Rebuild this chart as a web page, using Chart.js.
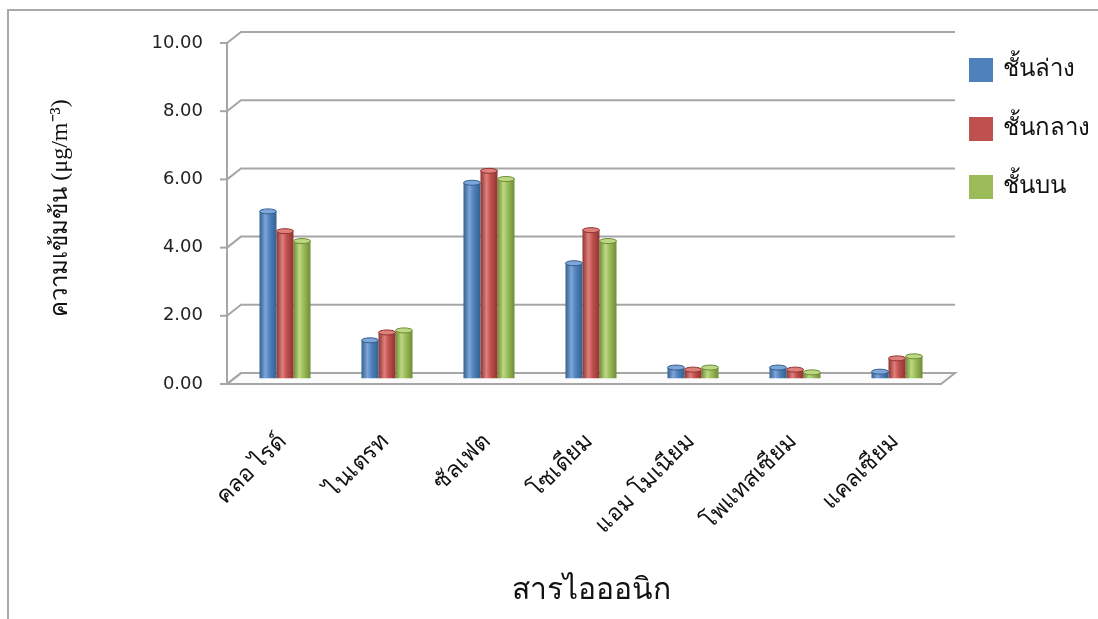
<!DOCTYPE html>
<html>
<head>
<meta charset="utf-8">
<script src="https://cdn.jsdelivr.net/npm/chart.js@4.4.1/dist/chart.umd.min.js"></script>
<style>
  body { margin: 0; background: #fff; }
  #wrap { position: relative; width: 1098px; height: 619px; overflow: hidden; }
  #frame { position: absolute; left: 7px; top: 9px; width: 1100px; height: 620px;
           border-left: 2px solid #a9a9a9; border-top: 2px solid #a9a9a9; }
  #chart { position: absolute; left: 0; top: 0; }
  .leg { position: absolute; left: 969px; height: 24px; font-family: "Liberation Serif", serif;
         font-size: 24px; color: #111; white-space: nowrap; }
  .leg span.box { position: absolute; left: 0; top: 0; width: 24px; height: 24px; }
  .leg span.txt { position: absolute; left: 34px; top: -6px; line-height: 32px; }
</style>
</head>
<body>
<div id="wrap">
  <div id="frame"></div>
  <canvas id="chart" width="1098" height="619"></canvas>
  <div id="legend"></div>
</div>
<script>
  const categories = ["คลอ ไรด์", "ไนเตรท", "ซัลเฟต", "โซเดียม", "แอม โมเนียม", "โพแทสเซียม", "แคลเซียม"];
  const seriesNames = ["ชั้นล่าง", "ชั้นกลาง", "ชั้นบน"];
  const lowerLayer = [4.9, 1.12, 5.74, 3.38, 0.32, 0.32, 0.2];
  const middleLayer = [4.32, 1.35, 6.09, 4.35, 0.26, 0.26, 0.59];
  const upperLayer = [4.03, 1.41, 5.85, 4.03, 0.32, 0.18, 0.65];
  const yTicks = [0, 2, 4, 6, 8, 10];

  const colors = [
    { base: "#4f81bd", dark: "#35608f", light: "#7ea6d8" },
    { base: "#c0504d", dark: "#8f3431", light: "#de7f7c" },
    { base: "#9bbb59", dark: "#6f8c36", light: "#bcd884" },
  ];

  // half depth of the fake 3D frame (bars sit on the middle plane)
  const DX = 7, DY = 5.5;
  const catPct = 0.5;

  // legend
  const legend = document.getElementById("legend");
  const legendTops = [58, 117, 175];
  seriesNames.forEach((name, i) => {
    const d = document.createElement("div");
    d.className = "leg";
    d.style.top = legendTops[i] + "px";
    d.innerHTML = '<span class="box" style="background:' + colors[i].base + '"></span><span class="txt">' + name + "</span>";
    legend.appendChild(d);
  });

  // cylinder shading, computed from the x scale
  function barFill(ctx) {
    const c = colors[ctx.datasetIndex];
    const chart = ctx.chart;
    const xs = chart.scales.x;
    if (!xs || !chart.chartArea || ctx.dataIndex === undefined) return c.base;
    const catW = xs.width / categories.length;
    const barW = (catW * catPct) / 3;
    const left = xs.getPixelForValue(ctx.dataIndex) - (catW * catPct) / 2 + ctx.datasetIndex * barW;
    const g = chart.ctx.createLinearGradient(left, 0, left + barW, 0);
    g.addColorStop(0, c.dark);
    g.addColorStop(0.35, c.light);
    g.addColorStop(0.6, c.base);
    g.addColorStop(1, c.dark);
    return g;
  }

  const frame3d = {
    id: "frame3d",
    beforeDatasetsDraw(chart) {
      const { ctx, chartArea: a, scales: { y } } = chart;
      const p0 = y.getPixelForValue(0);
      ctx.save();
      ctx.strokeStyle = "#a6a6a6";
      ctx.lineWidth = 2;
      // floor
      ctx.fillStyle = "#fbfbfb";
      ctx.beginPath();
      ctx.moveTo(a.left - DX, p0 + DY);
      ctx.lineTo(a.right - DX, p0 + DY);
      ctx.lineTo(a.right + DX, p0 - DY);
      ctx.lineTo(a.left + DX, p0 - DY);
      ctx.closePath();
      ctx.fill();
      ctx.stroke();
      yTicks.forEach((v) => {
        const py = y.getPixelForValue(v);
        ctx.beginPath();
        ctx.moveTo(a.left - DX, py + DY);
        ctx.lineTo(a.left + DX, py - DY);
        if (v > 0) ctx.lineTo(a.right + DX, py - DY);
        ctx.stroke();
        // tick mark
        ctx.beginPath();
        ctx.moveTo(a.left - DX - 7, py + DY);
        ctx.lineTo(a.left - DX, py + DY);
        ctx.stroke();
      });
      // front axis line
      ctx.beginPath();
      ctx.moveTo(a.left - DX, y.getPixelForValue(10) + DY);
      ctx.lineTo(a.left - DX, p0 + DY);
      ctx.stroke();
      ctx.restore();
    },
    afterDatasetsDraw(chart) {
      const ctx = chart.ctx;
      ctx.save();
      chart.data.datasets.forEach((ds, i) => {
        chart.getDatasetMeta(i).data.forEach((bar) => {
          ctx.fillStyle = colors[i].light;
          ctx.strokeStyle = colors[i].dark;
          ctx.lineWidth = 1;
          ctx.beginPath();
          ctx.ellipse(bar.x, bar.y, bar.width / 2, 2.5, 0, 0, Math.PI * 2);
          ctx.fill();
          ctx.stroke();
        });
      });
      ctx.restore();
    },
  };

  const seriesData = [lowerLayer, middleLayer, upperLayer];

  new Chart(document.getElementById("chart").getContext("2d"), {
    type: "bar",
    data: {
      labels: categories,
      datasets: seriesNames.map((name, i) => ({
        label: name,
        data: seriesData[i],
        backgroundColor: barFill,
        borderWidth: 0,
        categoryPercentage: catPct,
        barPercentage: 1.0,
      })),
    },
    options: {
      responsive: false,
      animation: false,
      layout: { padding: { left: 30, right: 150, top: 37.5, bottom: 0 } },
      plugins: { legend: { display: false }, tooltip: { enabled: false } },
      scales: {
        x: {
          grid: { display: false },
          border: { display: false },
          afterFit: (s) => { s.height = 619 - 378.5; s.paddingLeft = 0; s.paddingRight = 0; },
          ticks: {
            maxRotation: 45,
            minRotation: 45,
            padding: 42,
            labelOffset: -2,
            color: "#111",
            font: { family: "Liberation Serif", size: 23 },
          },
          title: {
            display: true,
            text: "สารไอออนิก",
            color: "#111",
            font: { family: "Liberation Serif", size: 30 },
            padding: { top: 0, bottom: 10 },
          },
        },
        y: {
          min: 0,
          max: 10,
          afterBuildTicks: (s) => { s.ticks = yTicks.map((v) => ({ value: v })); },
          afterFit: (s) => { s.width = 234 - 30; s.paddingTop = 0; s.paddingBottom = 0; },
          grid: { display: false, drawTicks: false },
          border: { display: false },
          ticks: {
            padding: 31,
            labelOffset: 5.5,
            color: "#222",
            font: { family: "DejaVu Sans", size: 18 },
            callback: (v) => Number(v).toFixed(2),
          },
          title: {
            display: true,
            text: "ความเข้มข้น (μg/m⁻³)",
            color: "#111",
            font: { family: "Liberation Serif", size: 24 },
            padding: { top: 16, bottom: 0 },
          },
        },
      },
    },
    plugins: [frame3d],
  });
</script>
</body>
</html>
